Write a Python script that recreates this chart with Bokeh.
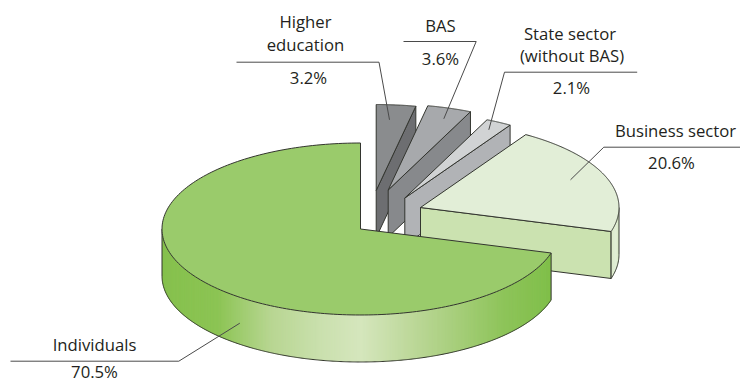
import numpy as np
from bokeh.core.properties import value
from bokeh.embed import file_html
from bokeh.models import Range1d
from bokeh.plotting import figure
from bokeh.resources import INLINE

# Shares of R&D funding, percent
sectors = ["Individuals", "Business sector", "State sector", "BAS", "Higher education"]
shares = [70.5, 20.6, 2.1, 3.6, 3.2]

# Pie geometry in screen pixels
RX, RY, DEPTH = 198.5, 86.0, 47.0
centres = {
    "Individuals": (360.0, 228.5),
    "Business sector": (420.0, 207.0),
    "State sector": (404.3, 197.5),
    "BAS": (387.7, 189.5),
    "Higher education": (375.7, 190.0),
}
top_colours = {
    "Individuals": "#9acb6b",
    "Business sector": "#e2eed7",
    "State sector": "#d1d3d4",
    "BAS": "#a7a9ac",
    "Higher education": "#8a8c8e",
}
side_colours = {
    "Business sector": "#cbe2b0",
    "State sector": "#b1b3b6",
    "BAS": "#87898c",
    "Higher education": "#6d6e71",
}
OUTLINE = "#33352f"
LEADER = "#4a4a4a"

# Colour stops of the curved rim: x offset from the centre as a fraction of RX
rim_stops = [-1.0, -0.72, -0.45, -0.2, 0.0, 0.3, 0.72, 0.96]
rim_r = [0x86, 0x8c, 0xb8, 0xca, 0xd5, 0xb9, 0x8e, 0x80]
rim_g = [0xc1, 0xc4, 0xd6, 0xe0, 0xe6, 0xd6, 0xc4, 0xbf]
rim_b = [0x4e, 0x54, 0x92, 0xae, 0xbd, 0x94, 0x5a, 0x4a]
side_rim_stops = [0.9, 0.985, 1.0]
side_rim_r = [0xcb, 0xe2, 0xd6]
side_rim_g = [0xe2, 0xee, 0xe8]
side_rim_b = [0xb0, 0xd6, 0xc4]

# Labels: text lines, leader polyline
label_lines = {
    "Higher education": [("Higher", 305, 21), ("education", 305, 44), ("3.2%", 308, 77)],
    "BAS": [("BAS", 440, 25), ("3.6%", 440, 58)],
    "State sector": [("State sector", 569.5, 33), ("(without BAS)", 571.5, 55), ("2.1%", 571, 87)],
    "Business sector": [("Business sector", 675, 130), ("20.6%", 671, 162)],
    "Individuals": [("Individuals", 94, 343.5), ("70.5%", 94, 371)],
}
leader_x = {
    "Higher education": [236, 378.5, 389],
    "BAS": [403, 475.7, 443.3],
    "State sector": [636.7, 504, 488.3],
    "Business sector": [740, 603.3, 570],
    "Individuals": [10, 178.3, 239.3],
}
leader_y = {
    "Higher education": [61.7, 61.7, 119.3],
    "BAS": [41, 41, 118.3],
    "State sector": [71.7, 71.7, 129.3],
    "Business sector": [146.7, 146.7, 179.3],
    "Individuals": [360.7, 360.7, 322.7],
}

# Angles run clockwise from twelve o'clock; Individuals sweeps anticlockwise
# from the top, the other sectors fill the remaining arc back to the top.
sweep = [s * 3.6 for s in shares]
ind_end = 360.0 - sweep[0]
bounds = {"Individuals": (ind_end, 360.0)}
upper = ind_end
for name, deg in zip(sectors[1:], sweep[1:]):
    bounds[name] = (upper - deg, upper)
    upper -= deg


def arc(name, a0, a1, n=200):
    cx, cy = centres[name]
    t = np.radians(np.linspace(a0, a1, n))
    return cx + RX * np.sin(t), cy - RY * np.cos(t)


def sector_top(name):
    a0, a1 = bounds[name]
    ax, ay = arc(name, a0, a1)
    cx, cy = centres[name]
    return np.r_[cx, ax], np.r_[cy, ay]


def hexes(frac, stops, r, g, b):
    rr = np.interp(frac, stops, r).round().astype(int)
    gg = np.interp(frac, stops, g).round().astype(int)
    bb = np.interp(frac, stops, b).round().astype(int)
    return [f"#{i:02x}{j:02x}{k:02x}" for i, j, k in zip(rr, gg, bb)]


p = figure(width=740, height=382, output_backend="svg", toolbar_location=None,
           x_range=Range1d(0, 740), y_range=Range1d(382, 0),
           min_border=0, outline_line_color=None, background_fill_color="white",
           border_fill_color="white")
p.axis.visible = False
p.grid.visible = False


def outline(xs, ys):
    p.line(xs, ys, line_color=OUTLINE, line_width=1.0, line_join="round")


def curved_wall(name, a0, a1, stops, r, g, b, n):
    # The rim is laid out as narrow overlapping strips so that its colour can vary with x
    ax, ay = arc(name, a0, a1, n)
    cx = centres[name][0]
    xs, ys = [], []
    for i in range(len(ax) - 1):
        j = min(i + 4, len(ax) - 1)
        xs.append([ax[i], ax[j], ax[j], ax[i]])
        ys.append([ay[i], ay[j], ay[j] + DEPTH, ay[i] + DEPTH])
    cols = hexes((ax[:-1] + ax[1:]) / 2 / RX - cx / RX, stops, r, g, b)
    p.patches(xs, ys, fill_color=cols, line_color=None)
    outline(ax, ay + DEPTH)
    outline([ax[0], ax[0]], [ay[0], ay[0] + DEPTH])
    outline([ax[-1], ax[-1]], [ay[-1], ay[-1] + DEPTH])


def radial_wall(name):
    # Flat cut face along the clockwise edge of a separated sector
    a1 = bounds[name][1]
    cx, cy = centres[name]
    ex, ey = cx + RX * np.sin(np.radians(a1)), cy - RY * np.cos(np.radians(a1))
    xs = [cx, ex, ex, cx]
    ys = [cy, ey, ey + DEPTH, cy + DEPTH]
    p.patch(xs, ys, fill_color=side_colours[name], line_color=OUTLINE, line_width=1.0)


# Sectors are painted back to front
for name in ["Higher education", "BAS", "State sector", "Business sector"]:
    radial_wall(name)
    if name == "Business sector":
        a1 = bounds[name][1]
        curved_wall(name, 90.0, a1, side_rim_stops, side_rim_r, side_rim_g, side_rim_b, 30)
    tx, ty = sector_top(name)
    p.patch(tx, ty, fill_color=top_colours[name], line_color=OUTLINE, line_width=1.0,
            line_join="round")

curved_wall("Individuals", ind_end, 270.0, rim_stops, rim_r, rim_g, rim_b, 500)
tx, ty = sector_top("Individuals")
p.patch(tx, ty, fill_color=top_colours["Individuals"], line_color=OUTLINE, line_width=1.0,
        line_join="round")

# Leader lines and their captions
for name in sectors:
    p.line(leader_x[name], leader_y[name], line_color=LEADER, line_width=1.0)
    rows = label_lines[name]
    p.text([r[1] for r in rows], [r[2] for r in rows], text=[r[0] for r in rows],
           text_font=value("Open Sans"), text_font_size="16.7px", text_color="#231f20",
           text_align="center", text_baseline="middle")

open("out.html", "w").write(file_html(p, INLINE))
